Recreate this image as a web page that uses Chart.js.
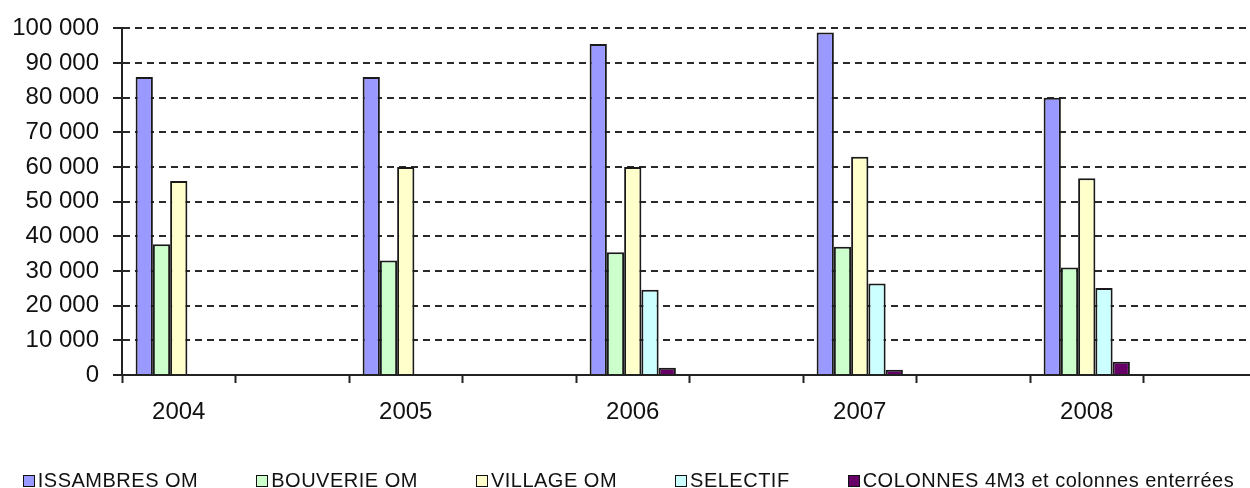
<!DOCTYPE html>
<html>
<head>
<meta charset="utf-8">
<script src="https://cdn.jsdelivr.net/npm/chart.js@4.4.1/dist/chart.umd.min.js"></script>
<style>
  body { margin: 0; background: #fff; overflow: hidden; }
  #wrap { position: relative; width: 1257px; height: 488px; }
  #legend {
    position: absolute; left: 0; top: 469px; width: 1257px;
    display: flex; justify-content: center; gap: 58px;
    font: 20px "Liberation Sans", Arial, sans-serif; letter-spacing: 0.5px; color: #111;
  }
  .item { display: flex; align-items: center; white-space: nowrap; }
  .box { width: 10px; height: 10px; border: 1px solid #111; margin-right: 3px; }
</style>
</head>
<body>
<div id="wrap">
  <canvas id="myChart" width="1257" height="488"></canvas>
  <div id="legend"></div>
</div>
<script>
const years = ['2004', '2005', '2006', '2007', '2008'];

const issambres = [86000, 86000, 95500, 98800, 80000];
const bouverie = [37700, 33000, 35400, 37000, 31000];
const village = [56000, 60000, 60000, 63000, 56800];
const selectif = [null, null, 24600, 26400, 25100];
const colonnes = [null, null, 2100, 1500, 3800];

const seriesNames = ['ISSAMBRES OM', 'BOUVERIE OM', 'VILLAGE OM', 'SELECTIF', 'COLONNES 4M3 et colonnes enterrées'];
const seriesValues = [issambres, bouverie, village, selectif, colonnes];
const seriesColors = ['#9999ff', '#ccffcc', '#ffffcc', '#ccffff', '#660066'];

// the sheet has an empty category after every year
const labels = [];
years.forEach(y => labels.push(y, ''));
const spread = arr => {
  const out = [];
  arr.forEach(v => out.push(v, null));
  return out;
};

const fmt = v => String(v).replace(/\B(?=(\d{3})+(?!\d))/g, ' ');
const font = { family: "'Liberation Sans', Arial, sans-serif", size: 24 };

const ctx = document.getElementById('myChart').getContext('2d');
const myChart = new Chart(ctx, {
  type: 'bar',
  data: {
    labels: labels,
    datasets: seriesNames.map((name, i) => ({
      label: name,
      data: spread(seriesValues[i]),
      backgroundColor: seriesColors[i],
      borderColor: '#1a1a1a',
      borderWidth: 2
    }))
  },
  options: {
    responsive: false,
    animation: false,
    layout: { padding: { top: 25, left: 0, right: 0, bottom: 0 } },
    datasets: { bar: { categoryPercentage: 0.76, barPercentage: 1 } },
    plugins: {
      legend: { display: false },
      tooltip: { enabled: false }
    },
    scales: {
      x: {
        grid: { display: true, drawOnChartArea: false, offset: true, tickLength: 8, tickColor: '#222', tickWidth: 2, tickBorderDash: [] },
        border: { color: '#222', width: 2 },
        ticks: { color: '#111', font: font, padding: 15, autoSkip: false, maxRotation: 0 },
        afterFit: s => { s.height = 113; }
      },
      y: {
        min: 0,
        max: 100000,
        grid: { color: '#2a2a2a', lineWidth: 2, tickLength: 9, tickColor: '#222', tickWidth: 2, tickBorderDash: [] },
        border: { color: '#222', width: 2, dash: [7, 5] },
        ticks: { stepSize: 10000, color: '#111', font: font, padding: 14, callback: v => fmt(v) },
        afterFit: s => { s.width = 122; }
      }
    }
  }
});

// legend below, built from the datasets
const legend = document.getElementById('legend');
myChart.data.datasets.forEach(ds => {
  const item = document.createElement('div');
  item.className = 'item';
  const box = document.createElement('span');
  box.className = 'box';
  box.style.background = ds.backgroundColor;
  const txt = document.createElement('span');
  txt.textContent = ds.label;
  item.appendChild(box);
  item.appendChild(txt);
  legend.appendChild(item);
});
</script>
</body>
</html>
